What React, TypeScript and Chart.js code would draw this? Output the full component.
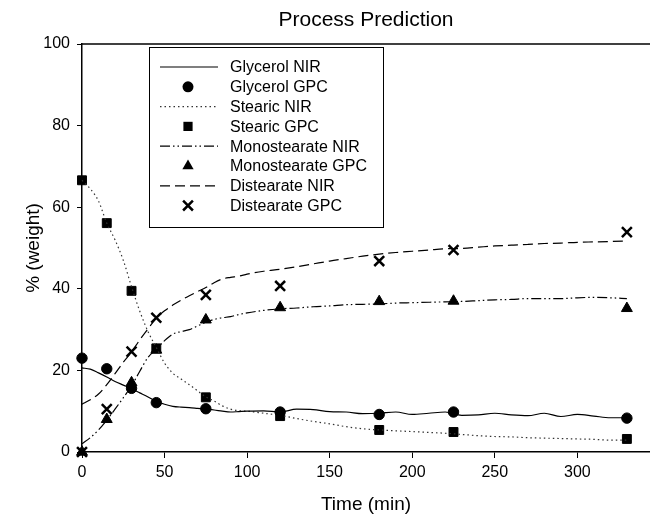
import { useEffect, useRef } from 'react';
import { Chart, registerables } from 'chart.js';

Chart.register(...registerables);

const chartTitle = 'Process Prediction';
const xTitle = 'Time (min)';
const yTitle = '% (weight)';

const xTicks = [0, 50, 100, 150, 200, 250, 300];
const yTicks = [0, 20, 40, 60, 80, 100];

// NIR predictions (continuous)
const nirTime = [0, 5, 10, 15, 20, 25, 30, 35, 40, 45, 50, 55, 60, 65, 70, 75, 80, 85, 90, 95, 100,
  110, 120, 130, 140, 150, 160, 170, 180, 190, 200, 210, 220, 230, 240, 250, 260, 270, 280, 290, 300, 310, 320, 330];
const glycerolNir = [20.6, 20.3, 19.4, 18.4, 17.3, 16.4, 15.5, 14.5, 13.5, 12.4, 11.7, 11.2, 11.0, 10.9, 10.7, 10.5, 10.3, 10.0, 9.8, 9.9, 10.0,
  10.1, 9.8, 10.5, 10.4, 9.9, 9.8, 9.4, 9.5, 9.8, 9.2, 9.5, 9.8, 9.0, 9.1, 9.5, 9.1, 8.9, 9.5, 8.7, 9.2, 8.8, 8.4, 8.4];
const stearicNir = [66.6, 64.5, 61.5, 56.1, 52.0, 47.0, 40.5, 34.5, 29.5, 25.6, 21.8, 19.3, 17.9, 16.5, 15.0, 13.5, 12.5, 11.3, 10.5, 10.1, 10.0,
  9.5, 9.0, 8.2, 7.5, 6.9, 6.2, 5.7, 5.4, 5.2, 5.0, 4.8, 4.6, 4.3, 4.0, 3.8, 3.7, 3.5, 3.4, 3.3, 3.2, 3.1, 2.9, 2.9];
const monostearateNir = [2.0, 3.5, 5.4, 7.8, 10.5, 13.3, 16.2, 19.8, 23.2, 25.2, 27.3, 28.9, 29.5, 30.0, 30.9, 31.8, 32.5, 32.9, 33.2, 33.7, 34.1,
  34.7, 35.1, 35.3, 35.6, 35.8, 36.1, 36.2, 36.3, 36.5, 36.6, 36.7, 36.8, 36.9, 37.1, 37.3, 37.4, 37.6, 37.6, 37.6, 37.8, 37.9, 37.8, 37.6];
const distearateNir = [11.7, 12.8, 14.2, 16.5, 19.2, 22.0, 24.5, 27.5, 30.2, 32.8, 34.6, 36.0, 37.2, 38.3, 39.3, 40.3, 41.5, 42.4, 42.8, 43.1, 43.6,
  44.3, 44.8, 45.4, 46.1, 46.8, 47.4, 48.0, 48.5, 48.9, 49.2, 49.5, 49.8, 49.9, 50.2, 50.5, 50.7, 50.9, 51.1, 51.2, 51.4, 51.5, 51.6, 51.7];

// GPC measurements (markers)
const gpcTime = [0, 15, 30, 45, 75, 120, 180, 225, 330];
const glycerolGpc = [23.0, 20.4, 15.6, 12.1, 10.6, 9.8, 9.2, 9.8, 8.3];
const stearicGpc = [66.6, 56.1, 39.5, 25.4, 13.4, 8.8, 5.4, 4.9, 3.2];
const monostearateGpc = [0, 8.0, 17.0, 25.0, 32.4, 35.4, 36.9, 37.0, 35.2];
const distearateGpc = [0, 10.5, 24.6, 32.9, 38.5, 40.7, 46.8, 49.5, 53.9];

const toXY = (xs: number[], ys: number[]) => xs.map((x, i) => ({ x, y: ys[i] }));

const FONT = '"Liberation Sans", Arial, Helvetica, sans-serif';

function drawMarker(ctx: CanvasRenderingContext2D, style: string, x: number, y: number) {
  ctx.save();
  ctx.fillStyle = '#000';
  ctx.strokeStyle = '#000';
  ctx.setLineDash([]);
  if (style === 'circle') {
    ctx.beginPath();
    ctx.arc(x, y, 5.5, 0, Math.PI * 2);
    ctx.fill();
  } else if (style === 'rect') {
    ctx.fillRect(x - 4.6, y - 4.6, 9.2, 9.2);
  } else if (style === 'triangle') {
    const r = 6.5;
    ctx.beginPath();
    ctx.moveTo(x, y - r);
    ctx.lineTo(x + r * Math.cos(Math.PI / 6), y + r / 2);
    ctx.lineTo(x - r * Math.cos(Math.PI / 6), y + r / 2);
    ctx.closePath();
    ctx.fill();
  } else if (style === 'crossRot') {
    const h = 4.9;
    ctx.lineWidth = 2.5;
    ctx.beginPath();
    ctx.moveTo(x - h, y - h);
    ctx.lineTo(x + h, y + h);
    ctx.moveTo(x - h, y + h);
    ctx.lineTo(x + h, y - h);
    ctx.stroke();
  }
  ctx.restore();
}

const framePlugin = {
  id: 'frameAndLegend',
  afterDraw(chart: any) {
    const { ctx, chartArea } = chart;
    ctx.save();
    // top spine
    ctx.strokeStyle = '#000';
    ctx.lineWidth = 1.5;
    ctx.beginPath();
    ctx.moveTo(chartArea.left, chartArea.top);
    ctx.lineTo(chartArea.right, chartArea.top);
    ctx.stroke();

    // legend box
    const bx = chartArea.left + 67;
    const by = chartArea.top + 3;
    const bw = 234;
    const bh = 180;
    ctx.fillStyle = '#fff';
    ctx.fillRect(bx, by, bw, bh);
    ctx.lineWidth = 1;
    ctx.strokeRect(bx + 0.5, by + 0.5, bw, bh);

    const rowY0 = by + 20;
    const rowH = 19.8;
    ctx.font = `16px ${FONT}`;
    ctx.textBaseline = 'middle';
    ctx.textAlign = 'left';
    chart.data.datasets.forEach((ds: any, i: number) => {
      const y = rowY0 + i * rowH;
      if (ds.showLine) {
        ctx.save();
        ctx.strokeStyle = ds.borderColor;
        ctx.lineWidth = ds.borderWidth;
        ctx.setLineDash(ds.borderDash || []);
        ctx.beginPath();
        ctx.moveTo(bx + 11, y);
        ctx.lineTo(bx + 69, y);
        ctx.stroke();
        ctx.restore();
      } else {
        drawMarker(ctx, ds.pointStyle, bx + 39, y);
      }
      ctx.fillStyle = '#000';
      ctx.fillText(ds.label, bx + 81, y + 1);
    });
    ctx.restore();
  },
};

export default function App() {
  const ref = useRef<HTMLCanvasElement>(null);

  useEffect(() => {
    document.body.style.margin = '0';
    const canvas = ref.current;
    if (!canvas) return;

    const nirLine = (label: string, ys: number[], dash: number[], color = '#000') => ({
      label,
      data: toXY(nirTime, ys),
      showLine: true,
      borderColor: color,
      borderWidth: 1.2,
      borderDash: dash,
      pointRadius: 0,
      pointHoverRadius: 0,
      cubicInterpolationMode: 'monotone' as const,
      fill: false,
      clip: false,
    });
    const gpcPoints = (label: string, ys: number[], style: string, radius: number, bw = 1) => ({
      label,
      data: toXY(gpcTime, ys),
      showLine: false,
      pointStyle: style,
      pointRadius: radius,
      pointHoverRadius: radius,
      backgroundColor: '#000',
      borderColor: '#000',
      borderWidth: bw,
      clip: false,
    });

    const chart = new Chart(canvas, {
      type: 'scatter',
      data: {
        datasets: [
          nirLine('Glycerol NIR', glycerolNir, []),
          gpcPoints('Glycerol GPC', glycerolGpc, 'circle', 5.2),
          nirLine('Stearic NIR', stearicNir, [1.5, 3], '#333'),
          gpcPoints('Stearic GPC', stearicGpc, 'rect', 6.3),
          nirLine('Monostearate NIR', monostearateNir, [10, 3, 1.5, 3, 1.5, 3]),
          gpcPoints('Monostearate GPC', monostearateGpc, 'triangle', 6.3),
          nirLine('Distearate NIR', distearateNir, [10, 5]),
          gpcPoints('Distearate GPC', distearateGpc, 'crossRot', 7, 2.5),
        ] as any,
      },
      options: {
        responsive: false,
        animation: false,
        events: [],
        layout: { autoPadding: false, padding: { top: 0, left: 0, right: 0, bottom: 0 } },
        plugins: {
          legend: { display: false },
          tooltip: { enabled: false },
          title: {
            display: true,
            text: chartTitle,
            color: '#000',
            fullSize: false,
            font: { family: FONT, size: 21, weight: 'normal' },
            padding: { top: 8, bottom: 10.8 },
          },
        },
        scales: {
          x: {
            type: 'linear',
            min: 0,
            max: 344,
            afterFit: (s: any) => { s.height = 64; s.paddingLeft = 0; s.paddingRight = 0; },
            afterBuildTicks: (s: any) => { s.ticks = xTicks.map((v) => ({ value: v })); },
            ticks: { color: '#000', font: { family: FONT, size: 16 }, padding: 5, includeBounds: false },
            grid: { drawOnChartArea: false, drawTicks: true, tickLength: 6, color: '#000', lineWidth: 1 },
            border: { display: true, color: '#000', width: 1.5 },
            title: {
              display: true,
              text: xTitle,
              color: '#000',
              font: { family: FONT, size: 19 },
              padding: { top: 0, bottom: 0 },
            },
          },
          y: {
            type: 'linear',
            min: 0,
            max: 100,
            afterFit: (s: any) => { s.width = 82; s.paddingTop = 0; s.paddingBottom = 0; },
            afterBuildTicks: (s: any) => { s.ticks = yTicks.map((v) => ({ value: v })); },
            ticks: { color: '#000', font: { family: FONT, size: 16 }, padding: 7 },
            grid: { drawOnChartArea: false, drawTicks: true, tickLength: 5, color: '#000', lineWidth: 1 },
            border: { display: true, color: '#000', width: 1.5 },
            title: {
              display: true,
              text: yTitle,
              color: '#000',
              font: { family: FONT, size: 19 },
              padding: { top: 22, bottom: 0 },
            },
          },
        },
      },
      plugins: [framePlugin],
    });

    return () => chart.destroy();
  }, []);

  return (
    <div style={{ width: 650, height: 516, background: '#fff' }}>
      <canvas ref={ref} width={650} height={516} style={{ display: 'block' }} />
    </div>
  );
}
